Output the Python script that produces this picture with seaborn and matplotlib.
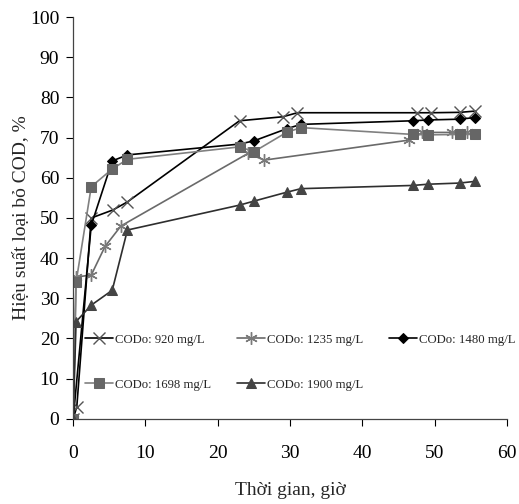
import numpy as np
import pandas as pd
import matplotlib
matplotlib.use("Agg")
import matplotlib.pyplot as plt
import seaborn as sns

labels = ["CODo: 920 mg/L", "CODo: 1235 mg/L", "CODo: 1480 mg/L",
          "CODo: 1698 mg/L", "CODo: 1900 mg/L"]

t_920 = [0, 0.5, 2.5, 5.5, 7.5, 23, 29, 31, 47.5, 49.5, 53.5, 55.5]
v_920 = [0, 3, 50, 52, 54, 74.2, 75.2, 76.2, 76.2, 76.2, 76.3, 76.6]

t_1235 = [0, 0.4, 2.5, 4.4, 6.6, 24.2, 26.4, 46.5, 48.3, 52.4, 54.5]
v_1235 = [0, 35.3, 35.8, 42.9, 48, 66.1, 64.4, 69.4, 71.3, 71.3, 71.4]

t_1480 = [0, 2.5, 5.4, 7.5, 23, 25, 29.5, 31.5, 47, 49, 53.5, 55.5]
v_1480 = [0, 48.2, 64.2, 65.7, 68.4, 69.2, 72.2, 73.3, 74.2, 74.4, 74.6, 75.0]

t_1698 = [0, 0.4, 2.5, 5.4, 7.5, 23, 25, 29.5, 31.5, 47, 49, 53.5, 55.5]
v_1698 = [0, 34, 57.8, 62.2, 64.6, 67.7, 66.5, 71.3, 72.5, 70.8, 70.7, 70.8, 70.8]

t_1900 = [0, 0.4, 2.5, 5.4, 7.5, 23, 25, 29.5, 31.5, 47, 49, 53.5, 55.5]
v_1900 = [0, 24.2, 28.3, 32, 47, 53.2, 54.2, 56.4, 57.3, 58.1, 58.4, 58.7, 59.1]

xticks = [0, 10, 20, 30, 40, 50, 60]
yticks = [0, 10, 20, 30, 40, 50, 60, 70, 80, 90, 100]

sns.set_theme(style="white")
plt.rcParams['font.family'] = ['Liberation Serif', 'DejaVu Serif']

fig = plt.figure(figsize=(5.19, 5.04), dpi=100)
ax = fig.add_axes([0.141, 0.169, 0.836, 0.797])

series = [
    (t_920, v_920, dict(color="black", marker="x", markersize=9, mec="#555555", mfc="none", mew=1.0)),
    (t_1235, v_1235, dict(color="#6a6a6a", marker=(6, 2, 0), markersize=9, mec="#7a7a7a", mfc="none", mew=1.0)),
    (t_1480, v_1480, dict(color="black", marker="D", markersize=5, mec="black", mfc="black")),
    (t_1698, v_1698, dict(color="#808080", marker="s", markersize=7.5, mec="#666666", mfc="#666666")),
    (t_1900, v_1900, dict(color="#2e2e2e", marker="^", markersize=7.5, mec="#444444", mfc="#444444")),
]

for (t, v, kw), lab in zip(series, labels):
    df = pd.DataFrame({"t": t, "v": v})
    sns.lineplot(data=df, x="t", y="v", ax=ax, sort=False, estimator=None,
                 label=lab, linewidth=1.2, **kw)

ax.set_xlim(0, 60)
ax.set_ylim(0, 100)
ax.set_xticks(xticks)
ax.set_yticks(yticks)
ax.tick_params(axis="both", direction="out", length=5, width=0.8, colors="black",
               labelsize=14, bottom=True, left=True)
ax.tick_params(axis="x", pad=14)
ax.tick_params(axis="y", pad=5)
for s in ["top", "right"]:
    ax.spines[s].set_visible(False)
for s in ["left", "bottom"]:
    ax.spines[s].set_color("#444444")
    ax.spines[s].set_linewidth(0.9)

ax.set_xlabel("Thời gian, giờ", fontsize=14, labelpad=14)
ax.set_ylabel("Hiệu suất loại bỏ COD, %", fontsize=14, labelpad=0)

h, l = ax.get_legend_handles_labels()
order = [0, 3, 1, 4, 2]
leg = ax.legend([h[i] for i in order], [l[i] for i in order], ncol=3,
                loc="upper left", bbox_to_anchor=(0.016, 0.225), frameon=False,
                fontsize=9.2, handlelength=2.2, handletextpad=0.15, columnspacing=2.0,
                labelspacing=2.6, borderaxespad=0)

fig.savefig("out.png", dpi=100, facecolor="white")
